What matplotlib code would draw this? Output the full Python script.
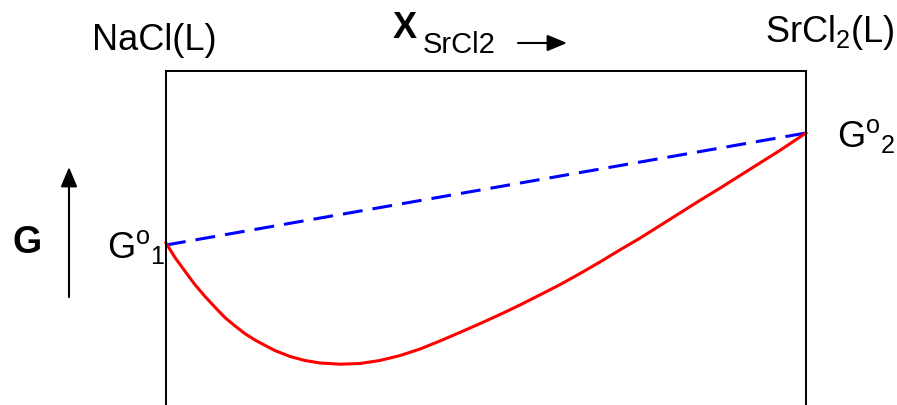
import matplotlib
matplotlib.use("Agg")
import matplotlib.pyplot as plt

plt.rcParams['font.family'] = ['Liberation Sans', 'DejaVu Sans']
plt.rcParams['mathtext.fontset'] = 'custom'
plt.rcParams['mathtext.rm'] = 'Liberation Sans'
plt.rcParams['mathtext.it'] = 'Liberation Sans:italic'
plt.rcParams['mathtext.bf'] = 'Liberation Sans:bold'
plt.rcParams['mathtext.default'] = 'regular'

# mole fraction of SrCl2 and Gibbs energy of the liquid solution (arb. units)
x_srcl2 = [0.0, 0.014, 0.030, 0.045, 0.061, 0.077, 0.092, 0.108, 0.123,
           0.139, 0.155, 0.170, 0.194, 0.217, 0.241, 0.272, 0.303, 0.334,
           0.366, 0.397, 0.428, 0.459, 0.491, 0.522, 0.553, 0.584, 0.616,
           0.647, 0.678, 0.709, 0.741, 0.772, 0.803, 0.834, 0.866, 0.897,
           0.928, 0.959, 1.0]
g_mix = [1.62, 1.475, 1.335, 1.205, 1.085, 0.975, 0.875, 0.79, 0.715,
         0.65, 0.595, 0.545, 0.485, 0.445, 0.42, 0.408, 0.415, 0.445,
         0.495, 0.56, 0.64, 0.725, 0.815, 0.905, 1.00, 1.10, 1.205,
         1.315, 1.43, 1.55, 1.67, 1.795, 1.92, 2.045, 2.17, 2.295,
         2.42, 2.545, 2.72]

# pure component energies G°1 (NaCl) and G°2 (SrCl2)
x_pure = [0.0, 1.0]
g_pure = [1.60, 2.72]

W, H = 897, 405
fig = plt.figure(figsize=(W / 100, H / 100), dpi=100)


def px(x, y):
    # pixel position (from top-left) -> figure fraction
    return x / W, 1 - y / H


ax = fig.add_axes([166 / W, 0, 640 / W, 334 / H])
ax.plot(x_pure, g_pure, color='#0000ff', lw=2.2, dashes=(6.5, 3.3),
        clip_on=False)
ax.plot(x_srcl2, g_mix, color='#ff0000', lw=2.2, clip_on=False,
        solid_joinstyle='round')
ax.set_xlim(0, 1)
ax.set_ylim(0, 3.34)
ax.set_xticks([])
ax.set_yticks([])
ax.spines['bottom'].set_visible(False)
for s in ['top', 'left', 'right']:
    ax.spines[s].set_linewidth(1.4)

fs = 26
fig.text(*px(92, 50), 'NaCl(L)', fontsize=fs, va='baseline')
fig.text(*px(765, 42), 'SrCl$_2$(L)', fontsize=fs, va='baseline')
fig.text(*px(393, 38), 'X', fontsize=fs, fontweight='bold', va='baseline')
fig.text(*px(423, 53), 'SrCl2', fontsize=21, va='baseline')
fig.text(*px(12, 253), 'G', fontsize=27, fontweight='bold', va='baseline')
fig.text(*px(107, 258), 'G$^{o}{}_{1}$', fontsize=fs, va='baseline')
fig.text(*px(837, 147), 'G$^{o}{}_{2}$', fontsize=fs, va='baseline')

arrow = dict(arrowstyle='-|>,head_length=0.6,head_width=0.25',
             mutation_scale=20, lw=1.5, color='black', shrinkA=0, shrinkB=0)
ax.annotate('', xy=(69, H - 167), xytext=(69, H - 297),
            xycoords='figure pixels', textcoords='figure pixels',
            arrowprops=arrow, annotation_clip=False)
ax.annotate('', xy=(567, H - 43), xytext=(518, H - 43),
            xycoords='figure pixels', textcoords='figure pixels',
            arrowprops=arrow, annotation_clip=False)

fig.savefig('out.png', dpi=100)
